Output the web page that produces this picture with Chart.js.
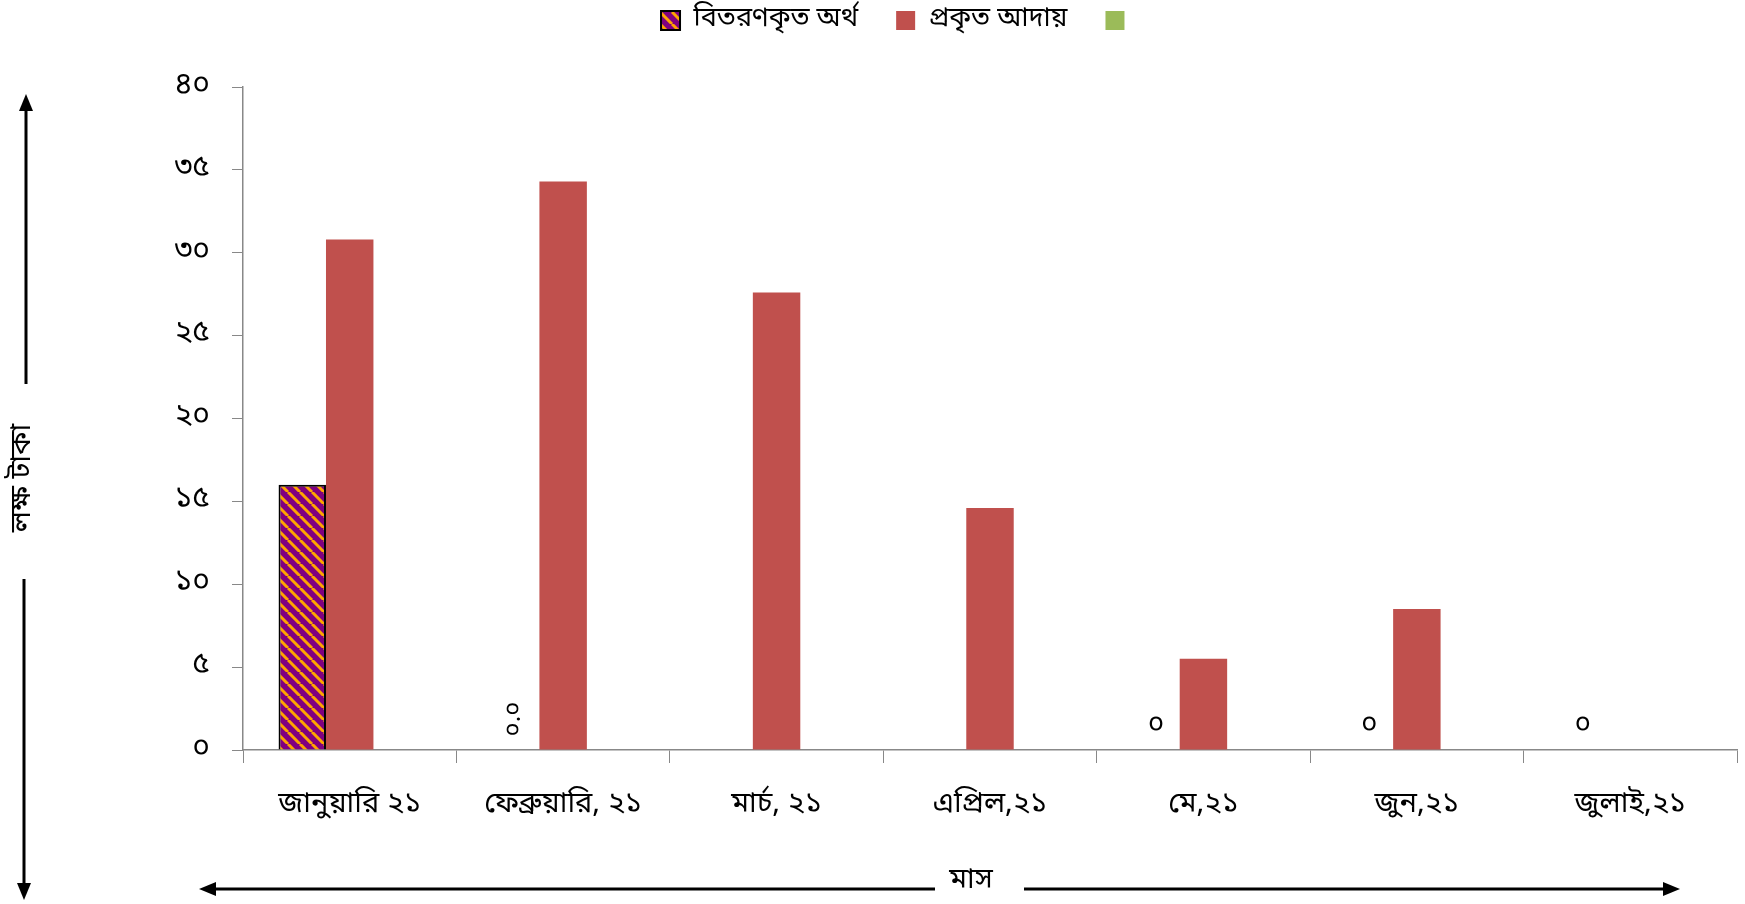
<!DOCTYPE html>
<html>
<head>
<meta charset="utf-8">
<script src="https://cdn.jsdelivr.net/npm/chart.js@4.4.1/dist/chart.umd.min.js"></script>
<style>
  html, body { margin: 0; padding: 0; background: #fff; }
  #wrap { width: 1745px; height: 904px; position: relative; }
</style>
</head>
<body>
<div id="wrap"><canvas id="collectionChart"></canvas></div>
<script>
// মাসভিত্তিক বিতরণ ও আদায় (লক্ষ টাকা)
const months = ["জানুয়ারি ২১", "ফেব্রুয়ারি, ২১", "মার্চ, ২১", "এপ্রিল,২১", "মে,২১", "জুন,২১", "জুলাই,২১"];
const seriesNames = ["বিতরণকৃত অর্থ", "প্রকৃত আদায়", ""];
const distributed = [16, 0, null, null, 0, 0, 0];
const distributedLabels = [null, "০.০", null, null, "০", "০", "০"];
const collected = [30.8, 34.3, 27.6, 14.6, 5.5, 8.5, null];
const third = [null, null, null, null, null, null, null];
const yTicks = [0, 5, 10, 15, 20, 25, 30, 35, 40];

const FONT = "'Noto Sans Bengali', 'Lohit Bengali', 'Noto Sans', sans-serif";
const bnDigits = "০১২৩৪৫৬৭৮৯";
function toBn(n){
    return String(n).replace(/[0-9]/g, d => bnDigits[d]);
}

// বেগুনি-কমলা কোনাকুনি ডোরা
function makeStripes(){
    const c = document.createElement("canvas");
    c.width = 12; c.height = 12;
    const g = c.getContext("2d");
    g.fillStyle = "#800080";
    g.fillRect(0, 0, 12, 12);
    g.strokeStyle = "#ffa500";
    g.lineWidth = 3;
    for (let k = -12; k <= 24; k += 12){
        g.beginPath();
        g.moveTo(k, 0);
        g.lineTo(k + 12, 12);
        g.stroke();
    }
    return g.createPattern(c, "repeat");
}
const stripes = makeStripes();

// লেজেন্ডের উচ্চতা ও অবস্থান ঠিক করা
const legendPlace = {
    id: "legendPlace",
    beforeLayout(chart){
        const lg = chart.legend;
        if (lg && !lg._fixed){
            const fit = lg.fit;
            lg.fit = function(){
                fit.call(this);
                this.height = 118;
            };
            lg._fixed = true;
        }
    },
    afterLayout(chart){
        const lg = chart.legend;
        if (lg){
            lg.left += 31;
            lg.right += 31;
        }
    }
};

// শূন্য মানের লেবেল আর অক্ষের তীরচিহ্ন
const decorations = {
    id: "decorations",
    afterDatasetsDraw(chart){
        const ctx = chart.ctx;
        const meta = chart.getDatasetMeta(0);
        const yBase = chart.scales.y.getPixelForValue(0);
        ctx.save();
        ctx.fillStyle = "#000";
        ctx.textAlign = "center";
        ctx.textBaseline = "middle";
        distributedLabels.forEach((t, i) => {
            if (!t) return;
            const x = meta.data[i].x;
            if (t.length > 1){
                ctx.font = "24px " + FONT;
                ctx.save();
                ctx.translate(x, yBase - 31);
                ctx.rotate(-Math.PI / 2);
                ctx.fillText(t, 0, 0);
                ctx.restore();
            } else {
                ctx.font = "28px " + FONT;
                ctx.fillText(t, x, yBase - 22);
            }
        });
        ctx.restore();
    },
    afterDraw(chart){
        const ctx = chart.ctx;
        ctx.save();
        ctx.strokeStyle = "#000";
        ctx.fillStyle = "#000";
        ctx.lineWidth = 3;
        const arrowHead = (x, y, dir) => {
            ctx.beginPath();
            if (dir === "up"){ ctx.moveTo(x, y); ctx.lineTo(x - 7, y + 17); ctx.lineTo(x + 7, y + 17); }
            if (dir === "down"){ ctx.moveTo(x, y); ctx.lineTo(x - 7, y - 17); ctx.lineTo(x + 7, y - 17); }
            if (dir === "left"){ ctx.moveTo(x, y); ctx.lineTo(x + 17, y - 7); ctx.lineTo(x + 17, y + 7); }
            if (dir === "right"){ ctx.moveTo(x, y); ctx.lineTo(x - 17, y - 7); ctx.lineTo(x - 17, y + 7); }
            ctx.closePath();
            ctx.fill();
        };
        // বাম দিকের উল্লম্ব তীর
        ctx.beginPath(); ctx.moveTo(26, 100); ctx.lineTo(26, 384); ctx.stroke();
        arrowHead(26, 94, "up");
        ctx.beginPath(); ctx.moveTo(24, 579); ctx.lineTo(24, 890); ctx.stroke();
        arrowHead(24, 900, "down");
        // নিচের অনুভূমিক তীর
        ctx.beginPath(); ctx.moveTo(205, 889); ctx.lineTo(935, 889); ctx.stroke();
        arrowHead(199, 889, "left");
        ctx.beginPath(); ctx.moveTo(1024, 889); ctx.lineTo(1672, 889); ctx.stroke();
        arrowHead(1680, 889, "right");

        ctx.font = "29px " + FONT;
        ctx.textAlign = "center";
        ctx.textBaseline = "middle";
        ctx.fillText("মাস", 971, 882);
        ctx.save();
        ctx.translate(24, 478);
        ctx.rotate(-Math.PI / 2);
        ctx.fillText("লক্ষ টাকা", 0, 0);
        ctx.restore();
        ctx.restore();
    }
};

new Chart(document.getElementById("collectionChart"), {
    type: "bar",
    data: {
        labels: months,
        datasets: [
            {
                label: seriesNames[0],
                data: distributed,
                backgroundColor: stripes,
                borderColor: "#000",
                borderWidth: 2
            },
            {
                label: seriesNames[1],
                data: collected,
                backgroundColor: "#c0504d",
                borderWidth: 0
            },
            {
                label: seriesNames[2],
                data: third,
                backgroundColor: "#9bbb59",
                borderWidth: 0
            }
        ]
    },
    options: {
        responsive: true,
        maintainAspectRatio: false,
        animation: false,
        categoryPercentage: 0.667,
        barPercentage: 1.0,
        layout: { padding: { top: -31, right: 8, left: 0, bottom: 0 } },
        plugins: {
            tooltip: { enabled: false },
            legend: {
                position: "top",
                labels: {
                    color: "#000",
                    boxWidth: 19,
                    boxHeight: 19,
                    padding: 38,
                    font: { family: FONT, size: 27 }
                }
            }
        },
        scales: {
            x: {
                offset: true,
                grid: {
                    offset: true,
                    drawOnChartArea: false,
                    drawTicks: true,
                    tickLength: 13,
                    color: "#888"
                },
                border: { color: "#888", width: 1.5 },
                ticks: {
                    color: "#000",
                    padding: 26,
                    maxRotation: 0,
                    autoSkip: false,
                    font: { family: FONT, size: 29 }
                },
                afterFit(scale){ scale.height = 154; }
            },
            y: {
                min: 0,
                max: 40,
                afterBuildTicks(scale){ scale.ticks = yTicks.map(v => ({ value: v })); },
                grid: {
                    drawOnChartArea: false,
                    drawTicks: true,
                    tickLength: 11,
                    color: "#888"
                },
                border: { color: "#888", width: 1.5 },
                ticks: {
                    color: "#000",
                    padding: 22,
                    font: { family: FONT, size: 30 },
                    callback: v => toBn(v)
                },
                afterFit(scale){ scale.width = 243; }
            }
        }
    },
    plugins: [legendPlace, decorations]
});
</script>
</body>
</html>
